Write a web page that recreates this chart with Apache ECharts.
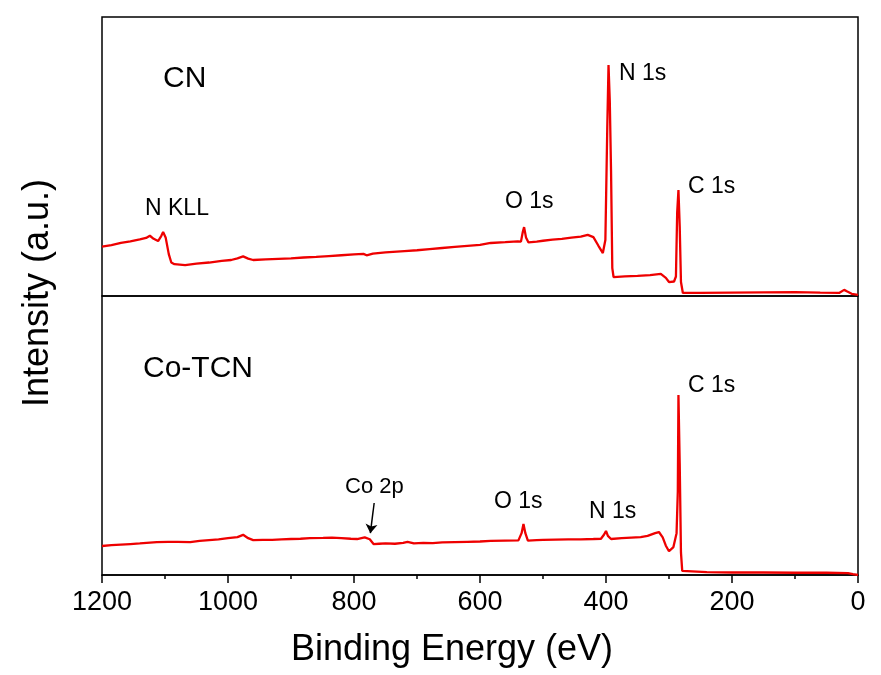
<!DOCTYPE html>
<html lang="en">

<head>
  <meta charset="UTF-8">
  <meta name="viewport" content="width=device-width, initial-scale=1.0">
  <script src="https://cdn.jsdelivr.net/npm/echarts@6.0.0/dist/echarts.min.js"></script>
  <style>
    body,
    html {
      margin: 0;
      padding: 0;
      width: 100%;
      height: 100%;
      background: #ffffff;
      overflow: hidden;
    }

    #main {
      width: 881px;
      height: 675px;
    }
  </style>
</head>

<body>
  <div id="main"></div>
  <script type="text/javascript">
    // binding energy (eV), intensity (a.u., 0-100 per panel)
    const cnSpectrum = [
      [1200, 17.7], [1185, 18.2], [1170, 19.0], [1155, 19.6], [1140, 20.3], [1130, 20.8],
      [1124, 21.6], [1118, 20.5], [1111, 19.7], [1106, 21.5], [1103, 22.9], [1099, 21.0],
      [1094, 15.0], [1090, 12.0], [1085, 11.4], [1068, 11.1], [1050, 11.6], [1030, 12.0],
      [1010, 12.6], [995, 12.9], [985, 13.5], [976, 14.2], [968, 13.4], [960, 12.9],
      [940, 13.1], [920, 13.3], [900, 13.5], [880, 13.8], [860, 14.0], [840, 14.3],
      [820, 14.6], [800, 14.9], [785, 15.1], [780, 14.6], [770, 15.2], [750, 15.6],
      [720, 16.1], [700, 16.4], [680, 16.8], [660, 17.2], [640, 17.6], [620, 18.0],
      [600, 18.3], [583, 19.0], [560, 19.3], [540, 19.6], [535, 19.5], [532, 23.0],
      [530, 24.7], [527, 21.0], [523, 19.2], [510, 19.5], [500, 19.8], [485, 20.2],
      [470, 20.5], [455, 20.9], [440, 21.3], [429, 21.9], [420, 21.1], [412, 18.0],
      [405, 15.4], [401, 20.1], [398, 60.0], [396, 82.8], [394, 70.0], [392, 45.0],
      [390, 10.0], [388, 6.8], [370, 7.0], [350, 7.2], [330, 7.5], [313, 7.9],
      [305, 6.5], [300, 5.0], [292, 5.2], [289, 7.0], [287, 30.0], [285, 38.0],
      [283, 25.0], [281, 5.0], [278, 1.1], [250, 1.1], [200, 1.2], [150, 1.3],
      [100, 1.4], [60, 1.2], [30, 1.1], [22, 2.2], [17, 1.6], [10, 0.8], [0, 0.4]
    ];

    const coTcnSpectrum = [
      [1200, 10.4], [1185, 10.7], [1170, 10.9], [1155, 11.1], [1140, 11.3], [1113, 11.8],
      [1095, 11.9], [1080, 11.9], [1060, 11.8], [1045, 12.2], [1030, 12.5], [1015, 12.8],
      [1000, 13.2], [985, 13.6], [976, 14.4], [968, 13.2], [960, 12.5], [945, 12.6],
      [930, 12.6], [915, 12.8], [900, 12.9], [885, 13.0], [870, 13.2], [849, 13.3],
      [835, 13.4], [820, 13.2], [805, 13.0], [795, 12.9], [783, 13.5], [780, 14.2],
      [775, 12.8], [769, 11.1], [760, 11.2], [750, 11.3], [735, 11.2], [722, 11.5],
      [715, 11.9], [705, 11.3], [690, 11.5], [675, 11.4], [660, 11.7], [640, 11.8],
      [620, 11.9], [600, 12.0], [583, 12.2], [560, 12.3], [539, 12.4], [534, 15.0],
      [531, 18.3], [528, 15.0], [524, 12.3], [510, 12.5], [500, 12.6], [480, 12.7],
      [460, 12.8], [440, 12.8], [420, 12.9], [408, 13.0], [403, 14.5], [400, 15.8],
      [397, 14.0], [392, 12.9], [375, 13.2], [360, 13.4], [345, 13.6], [334, 14.0],
      [322, 15.0], [316, 15.4], [310, 13.5], [305, 10.5], [300, 8.5], [297, 7.9],
      [293, 10.0], [288, 15.0], [286, 30.0], [285, 64.5], [283, 40.0], [281, 8.0],
      [279, 1.5], [278, 1.1], [240, 1.0], [200, 0.9], [150, 0.9], [100, 0.8],
      [50, 0.8], [16, 0.7], [8, 0.3], [0, 0.0]
    ];

    const energyTicks = [1200, 1000, 800, 600, 400, 200, 0];

    const black = '#000000';
    const red = '#ee0000';
    const font = '"Liberation Sans", Arial, sans-serif';

    var myChart = echarts.init(document.getElementById('main'));

    function label(text, left, cy, size) {
      return {
        type: 'text',
        left: left,
        top: cy - size * 0.58,
        style: {
          text: text,
          fill: black,
          font: size + 'px ' + font
        }
      };
    }

    const option = {
      backgroundColor: '#ffffff',
      animation: false,
      grid: [
        {
          left: 102, right: 23, top: 17, height: 279,
          show: true, borderColor: black, borderWidth: 1.5
        },
        {
          left: 102, right: 23, top: 296, height: 279,
          show: true, borderColor: black, borderWidth: 1.5
        }
      ],
      xAxis: [
        {
          gridIndex: 0,
          type: 'value',
          min: 0,
          max: 1200,
          inverse: true,
          axisLine: { show: false },
          axisTick: { show: false },
          axisLabel: { show: false },
          splitLine: { show: false }
        },
        {
          gridIndex: 1,
          type: 'value',
          min: 0,
          max: 1200,
          interval: 200,
          inverse: true,
          axisLine: { show: true, lineStyle: { color: black, width: 1.5 } },
          axisTick: { show: true, length: 8, lineStyle: { color: black, width: 1.5 } },
          minorTick: { show: true, splitNumber: 2, length: 4, lineStyle: { color: black, width: 1.5 } },
          axisLabel: {
            color: black,
            fontSize: 27,
            fontFamily: font,
            margin: 14,
            formatter: function (v) {
              return energyTicks.indexOf(v) >= 0 ? String(v) : '';
            }
          },
          splitLine: { show: false }
        }
      ],
      yAxis: [
        {
          gridIndex: 0, type: 'value', min: 0, max: 100,
          axisLine: { show: false }, axisTick: { show: false },
          axisLabel: { show: false }, splitLine: { show: false }
        },
        {
          gridIndex: 1, type: 'value', min: 0, max: 100,
          axisLine: { show: false }, axisTick: { show: false },
          axisLabel: { show: false }, splitLine: { show: false }
        }
      ],
      series: [
        {
          name: 'CN',
          type: 'line',
          xAxisIndex: 0,
          yAxisIndex: 0,
          data: cnSpectrum,
          showSymbol: false,
          smooth: false,
          lineStyle: { color: red, width: 2.3 }
        },
        {
          name: 'Co-TCN',
          type: 'line',
          xAxisIndex: 1,
          yAxisIndex: 1,
          data: coTcnSpectrum,
          showSymbol: false,
          smooth: false,
          lineStyle: { color: red, width: 2.3 },
          markLine: {
            silent: true,
            symbol: ['none', 'arrow'],
            symbolSize: 9,
            label: { show: false },
            lineStyle: { color: black, width: 1.5, type: 'solid' },
            data: [[{ coord: [768, 25.8] }, { coord: [774, 15.0] }]]
          }
        }
      ],
      graphic: [
        {
          type: 'text',
          x: 38,
          y: 293,
          rotation: Math.PI / 2,
          style: {
            text: 'Intensity (a.u.)',
            fill: black,
            font: '36px ' + font,
            align: 'center',
            verticalAlign: 'middle'
          }
        },
        {
          type: 'text',
          x: 452,
          y: 650,
          style: {
            text: 'Binding Energy (eV)',
            fill: black,
            font: '36px ' + font,
            align: 'center',
            verticalAlign: 'middle'
          }
        },
        label('CN', 163, 81, 30),
        label('N KLL', 145, 210, 23),
        label('O 1s', 505, 203, 23),
        label('N 1s', 619, 75, 23),
        label('C 1s', 688, 188, 23),
        label('Co-TCN', 143, 371, 30),
        label('Co 2p', 345, 489, 22),
        label('O 1s', 494, 503, 23),
        label('N 1s', 589, 513, 23),
        label('C 1s', 688, 387, 23)
      ]
    };

    myChart.setOption(option);
  </script>
</body>

</html>
